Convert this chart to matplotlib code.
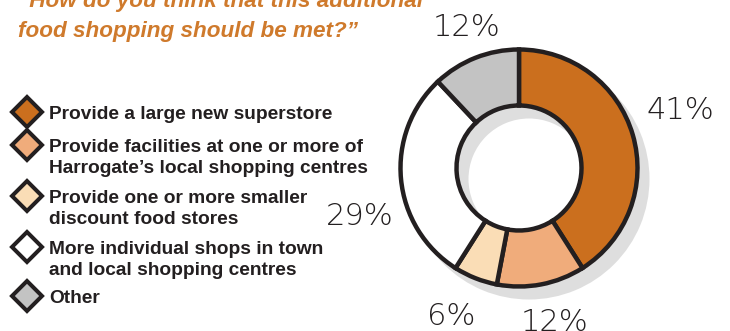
import matplotlib
matplotlib.use("Agg")
import matplotlib.pyplot as plt

# Survey answers, clockwise from the top of the ring
categories = [
    "Provide a large new superstore",
    "Provide facilities at one or more of\nHarrogate\u2019s local shopping centres",
    "Provide one or more smaller\ndiscount food stores",
    "More individual shops in town\nand local shopping centres",
    "Other",
]
shares = [41, 12, 6, 29, 12]
colors = ["#CB6F1E", "#F0AC7B", "#FADDB6", "#FFFFFF", "#C3C3C3"]
title_lines = ["\u201cHow do you think that this additional",
               "food shopping should be met?\u201d"]

INK = "#231F20"
TITLE_COLOR = "#CF7A2C"
SHADOW = "#DEDEDE"

W, H = 730, 331
fig = plt.figure(figsize=(W / 100, H / 100), dpi=100)
fig.patch.set_facecolor("white")

# Canvas axes in pixel units (y grows downward) for text and legend
ax = fig.add_axes([0, 0, 1, 1])
ax.set_xlim(0, W)
ax.set_ylim(H, 0)
ax.axis("off")

# Title, one line at a time so each baseline is placed exactly
title_baseline, title_step = 7, 30
for i, line in enumerate(title_lines):
    ax.text(18, title_baseline + i * title_step, line, ha="left", va="baseline",
            fontsize=16.2, fontweight="bold", fontstyle="italic",
            family="Liberation Sans", color=TITLE_COLOR)

# Legend: diamond marker + bold label per category
legend_baselines = [119, 152, 203, 254, 303]
line_step = 21
for label, col, yb in zip(categories, colors, legend_baselines):
    ax.plot([27], [yb - 7], marker="D", markersize=15.5, markerfacecolor=col,
            markeredgecolor=INK, markeredgewidth=2.9, linestyle="none")
    for j, part in enumerate(label.split("\n")):
        ax.text(49, yb + j * line_step, part, ha="left", va="baseline",
                fontsize=13.8, fontweight="bold", family="Liberation Sans",
                color=INK)

# Ring chart in its own axes, units in pixels centred on the ring
cx, cy, half = 519, 168, 150
pax = fig.add_axes([(cx - half) / W, (H - cy - half) / H, 2 * half / W, 2 * half / H])
pax.set_xlim(-half, half)
pax.set_ylim(-half, half)
pax.set_aspect("equal")
pax.axis("off")

r_out, ring = 118.5, 56
# drop shadow behind the ring
pax.pie([1], radius=r_out + 2, center=(10, -11), colors=[SHADOW],
        wedgeprops=dict(width=ring + 4, linewidth=0))
pax.pie(shares, radius=r_out, colors=colors, startangle=90, counterclock=False,
        wedgeprops=dict(width=ring, edgecolor=INK, linewidth=3.2))
pax.set_xlim(-half, half)
pax.set_ylim(-half, half)

# Percentage labels (pixel positions on the canvas: x centre, baseline)
label_pos = [(680, 119), (555, 331), (451, 325), (360, 225), (467, 36)]
for v, (x, yb) in zip(shares, label_pos):
    ax.text(x, yb, f"{v}%", ha="center", va="baseline", fontsize=22,
            fontweight="light", family="DejaVu Sans", color=INK)

fig.savefig("out.png", dpi=100)
